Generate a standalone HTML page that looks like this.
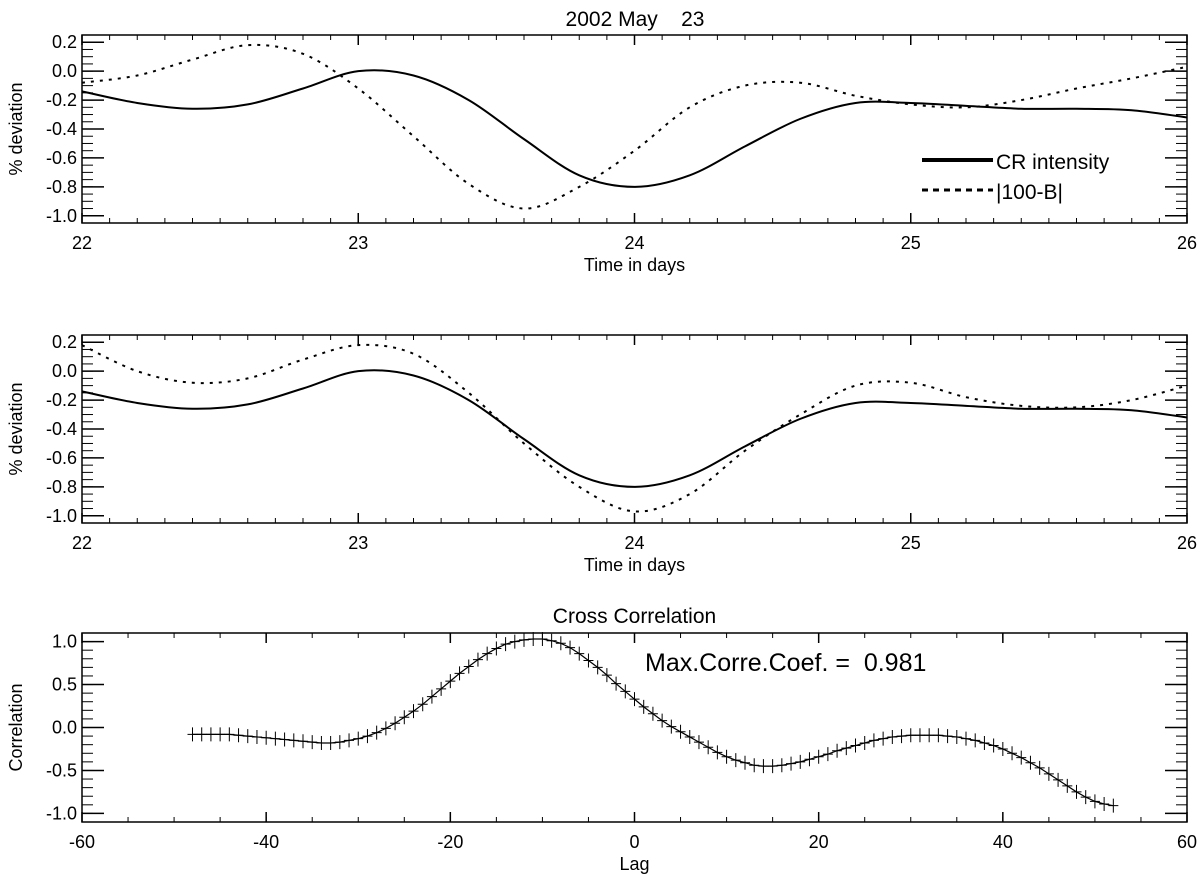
<!DOCTYPE html>
<html><head><meta charset="utf-8"><style>
html,body{margin:0;padding:0;background:#fff}
svg{display:block;font-family:"Liberation Sans",sans-serif}
</style></head><body>
<svg id="chart" width="1200" height="883" viewBox="0 0 1200 883" xmlns="http://www.w3.org/2000/svg">
<text x="635" y="26" font-size="21" text-anchor="middle" xml:space="preserve">2002 May    23</text>
<g id="p1"></g>
<g id="p2"></g>
<g id="p3"></g>
</svg>
<script>
const times = [22,22.2,22.4,22.6,22.8,23,23.2,23.4,23.6,23.8,24,24.2,24.4,24.6,24.8,25,25.2,25.4,25.6,25.8,26];
const crIntensity = [-0.14,-0.22,-0.26,-0.23,-0.12,0.0,-0.03,-0.2,-0.47,-0.72,-0.8,-0.72,-0.52,-0.33,-0.22,-0.22,-0.24,-0.26,-0.26,-0.27,-0.32];
const field1 = [-0.08,-0.03,0.08,0.18,0.12,-0.12,-0.45,-0.78,-0.95,-0.8,-0.55,-0.25,-0.1,-0.08,-0.17,-0.23,-0.25,-0.2,-0.12,-0.05,0.03];
const field2 = [0.18,0.0,-0.08,-0.05,0.08,0.18,0.12,-0.15,-0.5,-0.8,-0.97,-0.85,-0.55,-0.3,-0.1,-0.08,-0.18,-0.24,-0.25,-0.2,-0.1];
const timeTicks = [22,23,24,25,26];
const devTicks = [0.2,0.0,-0.2,-0.4,-0.6,-0.8,-1.0];
const lagStart = -48;
const corrValues = [-0.08,-0.08,-0.08,-0.08,-0.08,-0.09,-0.10,-0.11,-0.12,
-0.13,-0.14,-0.15,-0.16,-0.17,-0.18,-0.18,-0.17,-0.15,-0.13,
-0.10,-0.06,-0.01,0.05,0.12,0.19,0.27,0.36,0.45,0.54,
0.63,0.71,0.79,0.86,0.92,0.97,1.0,1.02,1.03,1.03,
1.01,0.98,0.93,0.86,0.78,0.70,0.61,0.51,0.42,0.33,
0.24,0.16,0.08,0.01,-0.05,-0.11,-0.17,-0.23,-0.29,-0.34,
-0.38,-0.41,-0.44,-0.45,-0.45,-0.44,-0.42,-0.40,-0.37,-0.34,
-0.31,-0.27,-0.24,-0.21,-0.18,-0.15,-0.13,-0.11,-0.10,-0.09,
-0.09,-0.09,-0.09,-0.10,-0.11,-0.13,-0.15,-0.18,-0.21,-0.25,
-0.30,-0.35,-0.41,-0.47,-0.54,-0.61,-0.68,-0.75,-0.81,-0.86,-0.89,-0.91];
const lagTicks = [-60,-40,-20,0,20,40,60];
const corrTicks = [1.0,0.5,0.0,-0.5,-1.0];

const NS="http://www.w3.org/2000/svg";
function mk(tag,attrs,parent){const e=document.createElementNS(NS,tag);for(const k in attrs)e.setAttribute(k,attrs[k]);parent.appendChild(e);return e;}
function smooth(pts){let d=`M${pts[0][0]},${pts[0][1]}`;for(let i=0;i<pts.length-1;i++){const p0=pts[Math.max(0,i-1)],p1=pts[i],p2=pts[i+1],p3=pts[Math.min(pts.length-1,i+2)];
const c1=[p1[0]+(p2[0]-p0[0])/6,p1[1]+(p2[1]-p0[1])/6],c2=[p2[0]-(p3[0]-p1[0])/6,p2[1]-(p3[1]-p1[1])/6];d+=` C${c1[0]},${c1[1]} ${c2[0]},${c2[1]} ${p2[0]},${p2[1]}`;}return d;}

function axesFrame(g,L,R,T,B,xs,ys,xmaj,xmin,ymaj,ymin,xlab,ylab,xfmt,yfmt,ylabX){
  const r=mk('rect',{x:L,y:T,width:R-L,height:B-T,fill:'none',stroke:'#000','stroke-width':1.5},g);
  
  for(const v of xmin){const x=xs(v);mk('line',{x1:x,x2:x,y1:B,y2:B-5,stroke:'#000'},g);mk('line',{x1:x,x2:x,y1:T,y2:T+5,stroke:'#000'},g);}
  for(const v of xmaj){const x=xs(v);mk('line',{x1:x,x2:x,y1:B,y2:B-10,stroke:'#000','stroke-width':1.5},g);mk('line',{x1:x,x2:x,y1:T,y2:T+10,stroke:'#000','stroke-width':1.5},g);
    const t=mk('text',{x:x,y:B+26,'font-size':18,'text-anchor':'middle'},g);t.textContent=xfmt(v);
    }
  for(const v of ymin){const y=ys(v);mk('line',{x1:L,x2:L+11,y1:y,y2:y,stroke:'#000'},g);mk('line',{x1:R,x2:R-11,y1:y,y2:y,stroke:'#000'},g);}
  for(const v of ymaj){const y=ys(v);mk('line',{x1:L,x2:L+22,y1:y,y2:y,stroke:'#000','stroke-width':1.5},g);mk('line',{x1:R,x2:R-22,y1:y,y2:y,stroke:'#000','stroke-width':1.5},g);
    const t=mk('text',{x:L-5,y:y+6,'font-size':18,'text-anchor':'end'},g);t.textContent=yfmt(v);
    }
  const xl=mk('text',{x:(L+R)/2,y:B+48,'font-size':18,'text-anchor':'middle'},g);xl.textContent=xlab;
  
  const yc=(T+B)/2;const yl=mk('text',{x:ylabX,y:yc,'font-size':18,'text-anchor':'middle',transform:`rotate(-90 ${ylabX} ${yc})`},g);yl.textContent=ylab;
  
}

function timePanel(id,T,B,dashed){
  const g=document.getElementById(id);const L=82,R=1187;
  const xs=v=>L+(v-22)/4*(R-L);const ys=v=>T+(0.25-v)/1.3*(B-T);
  const xmin=[];for(let i=0;i<=40;i++)xmin.push(22+i*0.1);
  const ymin=[];for(let i=0;i<=26;i++)ymin.push(-1.05+i*0.05);
  axesFrame(g,L,R,T,B,xs,ys,timeTicks,xmin,devTicks,ymin,'Time in days','% deviation',v=>String(v),v=>v.toFixed(1),22);
  const cp=mk('path',{d:smooth(times.map((t,i)=>[xs(t),ys(crIntensity[i])])),fill:'none',stroke:'#000','stroke-width':2},g);
  
  const fp=mk('path',{d:smooth(times.map((t,i)=>[xs(t),ys(dashed[i])])),fill:'none',stroke:'#000','stroke-width':2,'stroke-dasharray':'3 6'},g);
  
  return g;
}
const g1=timePanel('p1',35,223,field1);
timePanel('p2',335,523,field2);
const lg=mk('g',{},g1);

mk('line',{x1:922,x2:993,y1:160,y2:160,stroke:'#000','stroke-width':4},lg);
let t=mk('text',{x:996,y:169,'font-size':21},lg);t.textContent='CR intensity';

mk('line',{x1:922,x2:993,y1:190,y2:190,stroke:'#000','stroke-width':3,'stroke-dasharray':'6 5'},lg);
t=mk('text',{x:996,y:199,'font-size':21},lg);t.textContent='|100-B|';


(function(){
  const g=document.getElementById('p3');const L=82,R=1187,T=633,B=822;
  const xs=v=>L+(v+60)/120*(R-L);const ys=v=>T+(1.1-v)/2.2*(B-T);
  const xmin=[];for(let i=0;i<=24;i++)xmin.push(-60+i*5);
  const ymin=[];for(let i=0;i<=22;i++)ymin.push(-1.1+i*0.1);
  axesFrame(g,L,R,T,B,xs,ys,lagTicks,xmin,corrTicks,ymin,'Lag','Correlation',v=>String(v),v=>v.toFixed(1),22);
  const ct=mk('text',{x:(L+R)/2,y:623,'font-size':21,'text-anchor':'middle'},g);ct.textContent='Cross Correlation';
  
  const pts=corrValues.map((v,i)=>[xs(lagStart+i),ys(v)]);
  const ln=mk('polyline',{points:pts.map(p=>p.join(',')).join(' '),fill:'none',stroke:'#000','stroke-width':1.2},g);
  
  for(const p of pts){const m=mk('path',{d:`M${p[0]-5},${p[1]}H${p[0]+5}M${p[0]},${p[1]-7}V${p[1]+7}`,stroke:'#000','stroke-width':1},g);
    }
  const mx=mk('text',{x:645,y:671,'font-size':25},g);mx.textContent='Max.Corre.Coef. =\u00a0 0.981';
  
})();
</script>
</body></html>
